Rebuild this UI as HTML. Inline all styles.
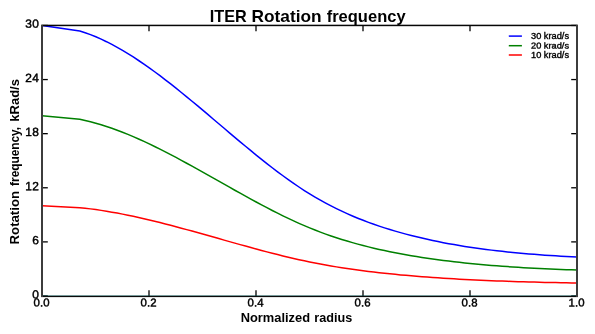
<!DOCTYPE html>
<html><head><meta charset="utf-8"><title>ITER Rotation frequency</title>
<style>
html,body{margin:0;padding:0;background:#fff;}
body{width:595px;height:334px;overflow:hidden;font-family:"Liberation Sans",sans-serif;}
svg{display:block;}
text{font-family:"Liberation Sans",sans-serif;fill:#000;}
.tk{font-size:11.4px;font-weight:normal;fill:#000;stroke:#000;stroke-width:0.45px;letter-spacing:0.2px;}
.lb{font-size:12.4px;font-weight:bold;}
.tky{font-size:11.9px;}
.lg{font-size:8.5px;font-weight:normal;fill:#000;stroke:#000;stroke-width:0.35px;}
.ttl{font-size:17px;font-weight:bold;}
</style></head><body>
<svg style="will-change:transform" width="595" height="334" viewBox="0 0 595 334">
<rect x="0" y="0" width="595" height="334" fill="#ffffff"/>
<defs><clipPath id="ax"><rect x="42.0" y="25.45" width="535.0" height="270.55"/></clipPath></defs>
<g fill="none" stroke-width="1.5" stroke-linejoin="round" stroke-linecap="butt" clip-path="url(#ax)">
<polyline stroke="#0000ff" points="42.00,25.45 79.77,30.94 85.12,32.68 90.46,34.63 95.81,36.79 101.16,39.15 106.50,41.70 111.85,44.43 117.20,47.33 122.54,50.40 127.89,53.62 133.24,56.99 138.58,60.50 143.93,64.13 149.28,67.89 154.62,71.75 159.97,75.72 165.32,79.79 170.66,83.94 176.01,88.17 181.36,92.47 186.70,96.83 192.05,101.24 197.40,105.69 202.74,110.18 208.09,114.69 213.43,119.22 218.78,123.76 224.13,128.30 229.47,132.83 234.82,137.34 240.17,141.83 245.51,146.28 250.86,150.69 256.21,155.05 261.55,159.34 266.90,163.57 272.25,167.72 277.59,171.78 282.94,175.75 288.29,179.62 293.63,183.37 298.98,187.00 304.33,190.51 309.67,193.87 315.02,197.09 320.37,200.17 325.71,203.12 331.06,205.93 336.41,208.62 341.75,211.18 347.10,213.63 352.44,215.97 357.79,218.19 363.14,220.31 368.48,222.34 373.83,224.27 379.18,226.10 384.52,227.85 389.87,229.53 395.22,231.12 400.56,232.64 405.91,234.10 411.26,235.49 416.60,236.82 421.95,238.09 427.30,239.31 432.64,240.47 437.99,241.58 443.34,242.64 448.68,243.65 454.03,244.61 459.38,245.53 464.72,246.40 470.07,247.22 475.42,248.01 480.76,248.75 486.11,249.46 491.46,250.13 496.80,250.76 502.15,251.36 507.49,251.93 512.84,252.46 518.19,252.97 523.53,253.45 528.88,253.91 534.23,254.34 539.57,254.74 544.92,255.13 550.27,255.50 555.61,255.85 560.96,256.18 566.31,256.50 571.65,256.80 577.00,257.10"/>
<polyline stroke="#008000" points="42.00,115.63 79.77,119.29 85.12,120.45 90.46,121.76 95.81,123.20 101.16,124.77 106.50,126.47 111.85,128.29 117.20,130.22 122.54,132.27 127.89,134.41 133.24,136.66 138.58,139.00 143.93,141.42 149.28,143.92 154.62,146.50 159.97,149.15 165.32,151.86 170.66,154.63 176.01,157.45 181.36,160.31 186.70,163.22 192.05,166.16 197.40,169.13 202.74,172.12 208.09,175.13 213.43,178.15 218.78,181.17 224.13,184.20 229.47,187.22 234.82,190.23 240.17,193.22 245.51,196.19 250.86,199.13 256.21,202.03 261.55,204.90 266.90,207.71 272.25,210.48 277.59,213.19 282.94,215.84 288.29,218.41 293.63,220.91 298.98,223.34 304.33,225.67 309.67,227.91 315.02,230.06 320.37,232.11 325.71,234.08 331.06,235.95 336.41,237.75 341.75,239.46 347.10,241.09 352.44,242.64 357.79,244.13 363.14,245.54 368.48,246.89 373.83,248.18 379.18,249.40 384.52,250.57 389.87,251.68 395.22,252.75 400.56,253.76 405.91,254.73 411.26,255.66 416.60,256.54 421.95,257.39 427.30,258.21 432.64,258.98 437.99,259.72 443.34,260.43 448.68,261.10 454.03,261.74 459.38,262.35 464.72,262.93 470.07,263.48 475.42,264.00 480.76,264.50 486.11,264.97 491.46,265.42 496.80,265.84 502.15,266.24 507.49,266.62 512.84,266.98 518.19,267.31 523.53,267.63 528.88,267.94 534.23,268.22 539.57,268.50 544.92,268.75 550.27,269.00 555.61,269.23 560.96,269.45 566.31,269.66 571.65,269.87 577.00,270.06"/>
<polyline stroke="#ff0000" points="42.00,205.82 79.77,207.65 85.12,208.23 90.46,208.88 95.81,209.60 101.16,210.38 106.50,211.23 111.85,212.14 117.20,213.11 122.54,214.13 127.89,215.21 133.24,216.33 138.58,217.50 143.93,218.71 149.28,219.96 154.62,221.25 159.97,222.57 165.32,223.93 170.66,225.31 176.01,226.72 181.36,228.16 186.70,229.61 192.05,231.08 197.40,232.56 202.74,234.06 208.09,235.56 213.43,237.07 218.78,238.59 224.13,240.10 229.47,241.61 234.82,243.11 240.17,244.61 245.51,246.09 250.86,247.56 256.21,249.02 261.55,250.45 266.90,251.86 272.25,253.24 277.59,254.59 282.94,255.92 288.29,257.21 293.63,258.46 298.98,259.67 304.33,260.84 309.67,261.96 315.02,263.03 320.37,264.06 325.71,265.04 331.06,265.98 336.41,266.87 341.75,267.73 347.10,268.54 352.44,269.32 357.79,270.06 363.14,270.77 368.48,271.45 373.83,272.09 379.18,272.70 384.52,273.28 389.87,273.84 395.22,274.37 400.56,274.88 405.91,275.37 411.26,275.83 416.60,276.27 421.95,276.70 427.30,277.10 432.64,277.49 437.99,277.86 443.34,278.21 448.68,278.55 454.03,278.87 459.38,279.18 464.72,279.47 470.07,279.74 475.42,280.00 480.76,280.25 486.11,280.49 491.46,280.71 496.80,280.92 502.15,281.12 507.49,281.31 512.84,281.49 518.19,281.66 523.53,281.82 528.88,281.97 534.23,282.11 539.57,282.25 544.92,282.38 550.27,282.50 555.61,282.62 560.96,282.73 566.31,282.83 571.65,282.93 577.00,283.03"/>
</g>
<g stroke="#000" stroke-width="1.3"><line x1="42.00" y1="296.0" x2="42.00" y2="290.2"/><line x1="42.00" y1="25.45" x2="42.00" y2="31.25"/><line x1="149.00" y1="296.0" x2="149.00" y2="290.2"/><line x1="149.00" y1="25.45" x2="149.00" y2="31.25"/><line x1="256.00" y1="296.0" x2="256.00" y2="290.2"/><line x1="256.00" y1="25.45" x2="256.00" y2="31.25"/><line x1="363.00" y1="296.0" x2="363.00" y2="290.2"/><line x1="363.00" y1="25.45" x2="363.00" y2="31.25"/><line x1="470.00" y1="296.0" x2="470.00" y2="290.2"/><line x1="470.00" y1="25.45" x2="470.00" y2="31.25"/><line x1="577.00" y1="296.0" x2="577.00" y2="290.2"/><line x1="577.00" y1="25.45" x2="577.00" y2="31.25"/><line x1="42.0" y1="296.00" x2="47.8" y2="296.00"/><line x1="577.0" y1="296.00" x2="571.2" y2="296.00"/><line x1="42.0" y1="241.89" x2="47.8" y2="241.89"/><line x1="577.0" y1="241.89" x2="571.2" y2="241.89"/><line x1="42.0" y1="187.78" x2="47.8" y2="187.78"/><line x1="577.0" y1="187.78" x2="571.2" y2="187.78"/><line x1="42.0" y1="133.67" x2="47.8" y2="133.67"/><line x1="577.0" y1="133.67" x2="571.2" y2="133.67"/><line x1="42.0" y1="79.56" x2="47.8" y2="79.56"/><line x1="577.0" y1="79.56" x2="571.2" y2="79.56"/><line x1="42.0" y1="25.45" x2="47.8" y2="25.45"/><line x1="577.0" y1="25.45" x2="571.2" y2="25.45"/></g>
<g shape-rendering="crispEdges">
<rect x="43" y="24" width="533" height="1" fill="#000" fill-opacity="0.31"/><rect x="43" y="25" width="533" height="1" fill="#060606"/><rect x="43" y="26" width="533" height="1" fill="#000" fill-opacity="0.18"/>
<rect x="43" y="295" width="533" height="1" fill="#00bfbf" fill-opacity="0.276"/><rect x="43" y="295" width="533" height="1" fill="#000" fill-opacity="0.35"/><rect x="43" y="296" width="533" height="1" fill="#0a0a0a"/><rect x="43" y="297" width="533" height="1" fill="#000" fill-opacity="0.1"/>
<rect x="41" y="24" width="2" height="1" fill="#000" fill-opacity="0.31"/><rect x="576" y="24" width="2" height="1" fill="#000" fill-opacity="0.31"/>
<rect x="41" y="297" width="2" height="1" fill="#000" fill-opacity="0.1"/><rect x="576" y="297" width="2" height="1" fill="#000" fill-opacity="0.1"/>
<rect x="41" y="25" width="2" height="272" fill="#3c3c3c"/><rect x="576" y="25" width="2" height="272" fill="#3c3c3c"/>
</g>
<g><text x="41.60" y="306.6" text-anchor="middle" class="tk" transform="rotate(0.03 41.60 306.6)">0.0</text><text x="148.60" y="306.6" text-anchor="middle" class="tk" transform="rotate(0.03 148.60 306.6)">0.2</text><text x="255.60" y="306.6" text-anchor="middle" class="tk" transform="rotate(0.03 255.60 306.6)">0.4</text><text x="362.60" y="306.6" text-anchor="middle" class="tk" transform="rotate(0.03 362.60 306.6)">0.6</text><text x="469.60" y="306.6" text-anchor="middle" class="tk" transform="rotate(0.03 469.60 306.6)">0.8</text><text x="576.60" y="306.6" text-anchor="middle" class="tk" transform="rotate(0.03 576.60 306.6)">1.0</text></g>
<g><text x="39.0" y="298.40" text-anchor="end" class="tk tky" transform="rotate(0.03 39 298.40)">0</text><text x="39.0" y="244.29" text-anchor="end" class="tk tky" transform="rotate(0.03 39 244.29)">6</text><text x="39.0" y="190.18" text-anchor="end" class="tk tky" transform="rotate(0.03 39 190.18)">12</text><text x="39.0" y="136.07" text-anchor="end" class="tk tky" transform="rotate(0.03 39 136.07)">18</text><text x="39.0" y="81.96" text-anchor="end" class="tk tky" transform="rotate(0.03 39 81.96)">24</text><text x="39.0" y="27.85" text-anchor="end" class="tk tky" transform="rotate(0.03 39 27.85)">30</text></g>
<g class="ttl">
<text x="209.8" y="22.2" textLength="37" lengthAdjust="spacingAndGlyphs">ITER</text>
<text x="251.6" y="22.2" textLength="70" lengthAdjust="spacingAndGlyphs">Rotation</text>
<text x="326.7" y="22.2" textLength="78.9" lengthAdjust="spacingAndGlyphs">frequency</text>
</g>
<g class="lb">
<text x="240.7" y="322.3" textLength="69.4" lengthAdjust="spacingAndGlyphs">Normalized</text>
<text x="314.3" y="322.3" textLength="37.9" lengthAdjust="spacingAndGlyphs">radius</text>
</g>
<g class="lb" transform="translate(19.1,0) rotate(-90)">
<text x="-244.4" y="0" textLength="53.4" lengthAdjust="spacingAndGlyphs">Rotation</text>
<text x="-185.9" y="0" textLength="59.0" lengthAdjust="spacingAndGlyphs">frequency,</text>
<text x="-121.7" y="0" textLength="42.6" lengthAdjust="spacingAndGlyphs">kRad/s</text>
</g>
<g stroke-width="1.5" fill="none">
<line x1="508.8" y1="36.1" x2="521.9" y2="36.1" stroke="#0000ff"/>
<line x1="508.8" y1="45.7" x2="521.9" y2="45.7" stroke="#008000"/>
<line x1="508.8" y1="55.0" x2="521.9" y2="55.0" stroke="#ff0000"/>
</g>
<text x="531" y="38.9" class="lg" textLength="38" lengthAdjust="spacingAndGlyphs">30 krad/s</text>
<text x="531" y="48.45" class="lg" textLength="38" lengthAdjust="spacingAndGlyphs" transform="rotate(0.03 531 48.45)">20 krad/s</text>
<text x="531" y="57.8" class="lg" textLength="38" lengthAdjust="spacingAndGlyphs">10 krad/s</text>
</svg>
</body></html>
